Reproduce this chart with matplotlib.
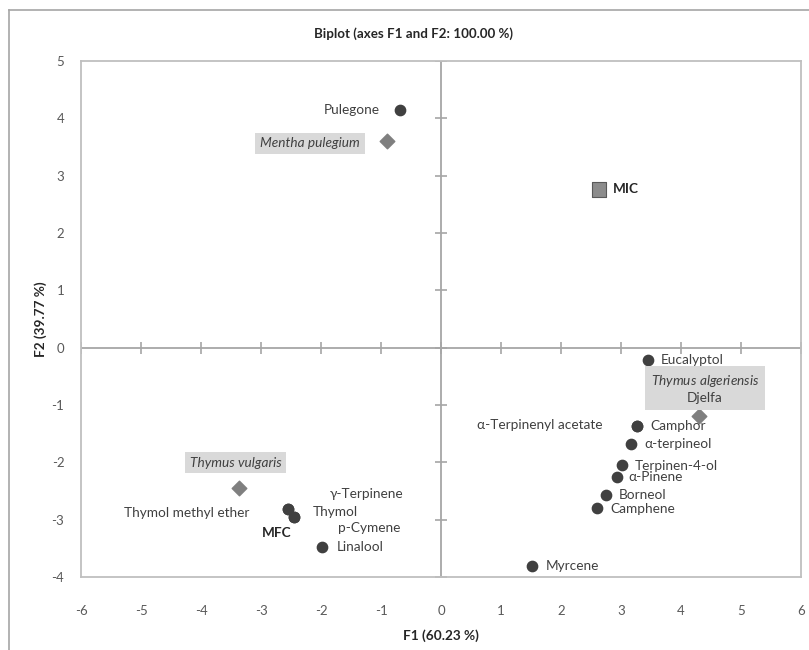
import matplotlib
matplotlib.use("Agg")
import matplotlib.pyplot as plt
from matplotlib.lines import Line2D

plt.rcParams['font.family'] = ['Lato', 'DejaVu Sans']
plt.rcParams['axes.unicode_minus'] = False
plt.rcParams['mathtext.fontset'] = 'custom'
plt.rcParams['mathtext.it'] = 'Lato:italic'
plt.rcParams['mathtext.rm'] = 'Lato'

# variables (active points)
var_names = ['Pulegone', 'Eucalyptol', 'Camphor', 'α-Terpinenyl acetate', 'α-terpineol',
             'Terpinen-4-ol', 'α-Pinene', 'Borneol', 'Camphene', 'Myrcene',
             'Thymol methyl ether', 'γ-Terpinene', 'Thymol', 'p-Cymene', 'Linalool']
var_x = [-0.68, 3.45, 3.27, 3.27, 3.17, 3.02, 2.93, 2.75, 2.60, 1.52,
         -2.55, -2.55, -2.45, -2.45, -1.98]
var_y = [4.14, -0.21, -1.36, -1.36, -1.68, -2.04, -2.25, -2.57, -2.79, -3.80,
         -2.81, -2.81, -2.95, -2.95, -3.47]

# species (observations)
obs_names = ['Mentha pulegium', 'Thymus algeriensis', 'Thymus vulgaris']
obs_x = [-0.90, 4.30, -3.37]
obs_y = [3.60, -1.19, -2.44]

# supplementary (MIC / MFC)
sup_names = ['MIC', 'MFC']
sup_x = [2.63, -2.45]
sup_y = [2.76, -2.95]

x_ticks = [-6, -5, -4, -3, -2, -1, 0, 1, 2, 3, 4, 5, 6]
y_ticks = [-4, -3, -2, -1, 0, 1, 2, 3, 4, 5]

txt = '#404040'
dot = '#404040'
grey = '#7f7f7f'
boxc = '#d9d9d9'
fs = 9.8

fig = plt.figure(figsize=(8.09, 6.5), dpi=100)
ax = fig.add_axes([81/809, 73/650, 720/809, 516/650])

# outer chart frame (only top/left visible in the crop)
fig.add_artist(Line2D([9/809, 1], [1 - 10/650, 1 - 10/650], color='#a6a6a6', lw=1.2))
fig.add_artist(Line2D([9/809, 9/809], [0, 1 - 10/650], color='#a6a6a6', lw=1.2))

ax.set_xlim(-6, 6)
ax.set_ylim(-4, 5)
ax.set_xticks(x_ticks)
ax.set_yticks(y_ticks)
ax.tick_params(length=0, labelsize=9.5, labelcolor='#595959')
ax.tick_params(axis='x', pad=20)
ax.tick_params(axis='y', pad=12)
for s in ax.spines.values():
    s.set_color('#bfbfbf')
    s.set_linewidth(1.3)

# zero lines with their tick marks
ax.axhline(0, color='#a6a6a6', lw=1.3, zorder=1)
ax.axvline(0, color='#a6a6a6', lw=1.3, zorder=1)
ax.plot(x_ticks, [0] * len(x_ticks), ls='none', marker='|', ms=8, mew=1.2, color='#a6a6a6', zorder=1)
ax.plot([0] * len(y_ticks), y_ticks, ls='none', marker='_', ms=8, mew=1.2, color='#a6a6a6', zorder=1)

# markers
ax.scatter(sup_x, sup_y, marker='s', s=[110, 30], color='#8c8c8c', edgecolors='#595959', linewidths=0.8, zorder=2)
ax.scatter(var_x, var_y, marker='o', s=55, color=dot, zorder=3)
ax.scatter(obs_x, obs_y, marker='D', s=55, color=grey, zorder=3)

# variable labels: (dx, dy, ha) in pixels
var_off = {
    'Pulegone': (-20, 0, 'right'),
    'Eucalyptol': (13, 0, 'left'),
    'Camphor': (13, 0, 'left'),
    'α-Terpinenyl acetate': (-35, 1, 'right'),
    'α-terpineol': (13, 0, 'left'),
    'Terpinen-4-ol': (13, -1, 'left'),
    'α-Pinene': (12, 0, 'left'),
    'Borneol': (13, 0, 'left'),
    'Camphene': (13, -1, 'left'),
    'Myrcene': (14, 0, 'left'),
    'Thymol methyl ether': (-39, -4, 'right'),
    'γ-Terpinene': (42, 15, 'left'),
    'Thymol': (19, 5, 'left'),
    'p-Cymene': (44, -11, 'left'),
    'Linalool': (15, 0, 'left'),
}
for n, x, y in zip(var_names, var_x, var_y):
    dx, dy, ha = var_off[n]
    ax.annotate(n, (x, y), xytext=(dx, dy), textcoords='offset pixels',
                ha=ha, va='center', fontsize=fs, color=txt)

# species labels in grey boxes
bb = dict(boxstyle='square,pad=0.35', fc=boxc, ec='none')
ax.annotate(obs_names[0], (obs_x[0], obs_y[0]), xytext=(-27, -2), textcoords='offset pixels',
            ha='right', va='center', fontsize=fs, style='italic', color=txt, bbox=bb)
ax.annotate(r'$\it{Thymus\ algeriensis}$' + '\nDjelfa', (obs_x[1], obs_y[1]), xytext=(6, 27),
            textcoords='offset pixels', ha='center', va='center', multialignment='center',
            fontsize=fs, color=txt, linespacing=1.3,
            bbox=dict(boxstyle='square,pad=0.4', fc=boxc, ec='none'))
ax.annotate(obs_names[2], (obs_x[2], obs_y[2]), xytext=(-3, 25), textcoords='offset pixels',
            ha='center', va='center', fontsize=fs, style='italic', color=txt, bbox=bb)

# MIC / MFC labels
ax.annotate(sup_names[0], (sup_x[0], sup_y[0]), xytext=(14, 0), textcoords='offset pixels',
            ha='left', va='center', fontsize=fs, fontweight='bold', color='#262626')
ax.annotate(sup_names[1], (sup_x[1], sup_y[1]), xytext=(-17, -16), textcoords='offset pixels',
            ha='center', va='center', fontsize=fs, fontweight='bold', color='#262626')

ax.set_title('Biplot (axes F1 and F2: 100.00 %)', fontsize=9.6, fontweight='bold',
             color='#262626', pad=17, x=(413 - 81) / 720)
ax.set_xlabel('F1 (60.23 %)', fontsize=fs, fontweight='bold', color='#262626', labelpad=9)
ax.set_ylabel('F2 (39.77 %)', fontsize=fs, fontweight='bold', color='#262626', labelpad=3)

fig.savefig('out.png', dpi=100)
